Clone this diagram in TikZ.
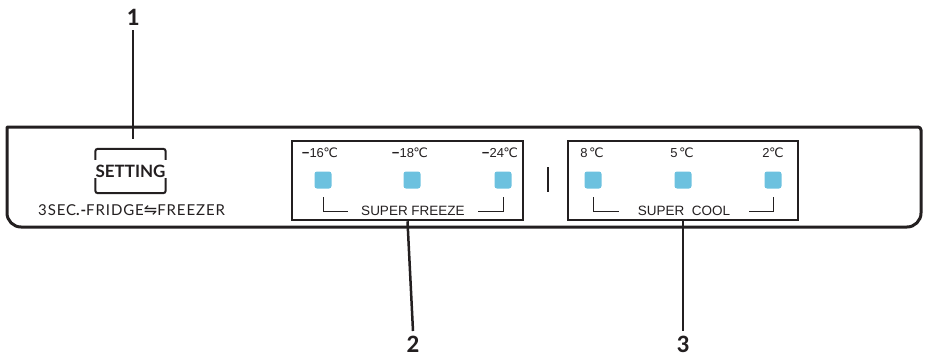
\documentclass[tikz,border=0pt]{standalone}
\usepackage{fontspec}
\setmainfont{Liberation Sans}
\newfontfamily\lato{Lato}
\newfontfamily\latosp{Lato}[LetterSpace=6]
\newfontfamily\numfont{Carlito}
\newfontfamily\dv{DejaVu Sans}
\usetikzlibrary{calc}
\definecolor{ink}{HTML}{231F20}
\definecolor{led}{HTML}{6CC1DF}
\tikzset{
  panel/.style={draw=ink,line width=3pt,line join=round},
  groupbox/.style={draw=ink,line width=2.5pt,minimum width=231pt,minimum height=79pt,inner sep=0pt},
  leader/.style={draw=ink,line width=2.5pt},
  num/.style={font=\fontsize{25}{25}\selectfont\numfont\bfseries,text=ink,inner sep=0pt},
  ledbox/.style={fill=led,rounded corners=2.5pt,minimum width=17pt,minimum height=17pt,inner sep=0pt},
  temp/.style={font=\fontsize{13}{13}\selectfont,text=ink,inner sep=0pt},
  brk/.style={draw=ink,line width=1pt},
  caption/.style={font=\fontsize{13.5}{14}\selectfont,text=ink,inner sep=0pt},
}
\newcommand{\degc}{{\dv\kern-0.5pt℃}}
\begin{document}
\begin{tikzpicture}[x=1pt,y=-1pt]
\useasboundingbox (0,0) rectangle (925,359);
% outer panel
\draw[panel] (7,127) -- (918,127) .. controls (919.7,127) and (921,128.3) .. (921,130)
  -- (921,213) .. controls (921,220.7) and (914.7,227) .. (907,227)
  -- (21,227) .. controls (13.3,227) and (7,220.7) .. (7,213) -- cycle;
% setting button
\node[font=\fontsize{17}{17}\selectfont\lato\bfseries,text=ink,minimum width=67pt,minimum height=44pt,inner sep=0pt] (set) at (130.5,171) {SETTING};
\draw[draw=ink,line width=2pt,rounded corners=2.5pt] ($(set.north west)+(0,11)$) -- (set.north west) -- (set.north east) -- ($(set.north east)+(0,11)$);
\draw[draw=ink,line width=2pt,rounded corners=2.5pt] ($(set.south west)+(0,-15)$) -- (set.south west) -- (set.south east) -- ($(set.south east)+(0,-15)$);
\node[font=\fontsize{15}{15}\selectfont\latosp,text=ink,anchor=west,inner sep=0pt] (sub) at (38,210) {3SEC{\bfseries.-}FRIDGE{\dv\fontsize{16}{16}\selectfont ⇋}FREEZER};
% label 1
\node[num] (n1) at (133,17) {1};
\coordinate (c1) at (133,139);
\draw[leader] (133,30) -- (c1);
% freeze group
\node[groupbox] (fz) at (407.5,180.5) {};
\node[ledbox] (f1) at (323,180) {};
\node[ledbox] (f2) at (412,180) {};
\node[ledbox] (f3) at (503,180) {};
\node[temp] (t1) at (320,153) {{\bfseries −}16\degc};
\node[temp] (t2) at (410,153) {{\bfseries −}18\degc};
\node[temp] (t3) at (500,153) {{\bfseries −}24\degc};
\draw[brk] ($(f1.south)+(0,8.5)$) |- ($(f1.south)+(25,22.5)$);
\draw[brk] ($(f3.south)+(0,8.5)$) |- ($(f3.south)+(-25,22.5)$);
\node[caption] (sf) at (413,211) {SUPER FREEZE};
% separator
\draw[draw=ink,line width=1.3pt] (548,167) -- (548,192);
% cool group
\node[groupbox,minimum width=230pt] (cl) at (683,180.5) {};
\node[ledbox] (k1) at (593,180) {};
\node[ledbox] (k2) at (683,180) {};
\node[ledbox] (k3) at (773,180) {};
\node[temp] (u1) at (592,153) {8\,\degc};
\node[temp] (u2) at (682,153) {5\,\degc};
\node[temp] (u3) at (773,153) {2\degc};
\draw[brk] ($(k1.south)+(0,8.5)$) |- ($(k1.south)+(26,22.5)$);
\draw[brk] ($(k3.south)+(0,8.5)$) |- ($(k3.south)+(-24,22.5)$);
\node[caption] (sc) at (684,211) {SUPER\ \ COOL};
% labels 2, 3
\node[num] (n2) at (413,344) {2};
\node[num] (n3) at (683,344) {3};
\draw[leader] (fz.south) -- (413,331);
\draw[leader] (cl.south) -- (683,331);
\end{tikzpicture}
\end{document}
